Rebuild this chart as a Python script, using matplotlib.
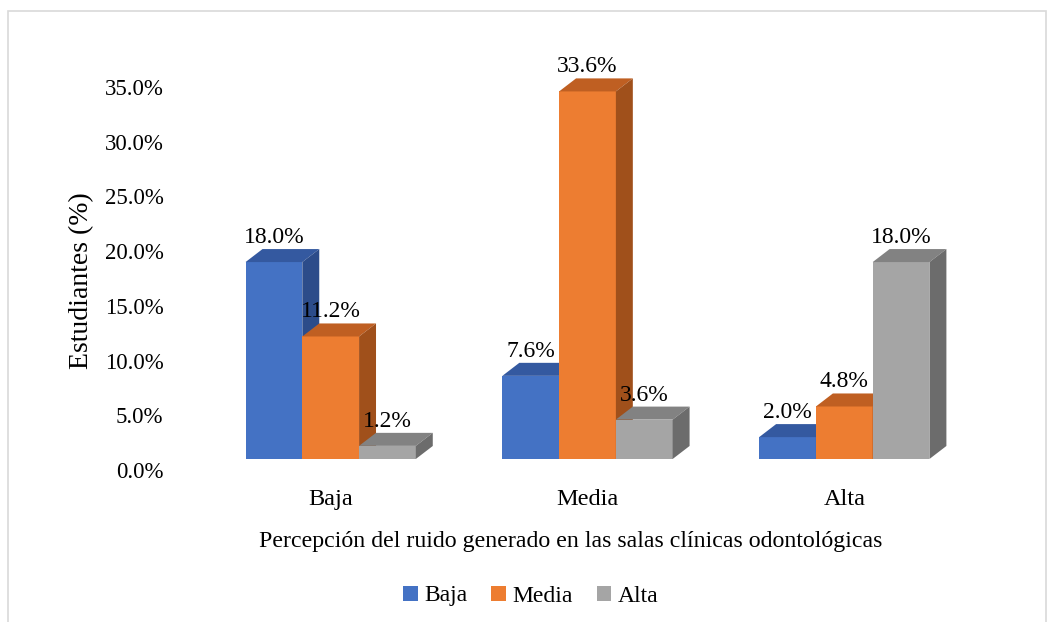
import numpy as np
import matplotlib.pyplot as plt
from matplotlib.patches import Polygon, Rectangle, Patch

categories = ["Baja", "Media", "Alta"]
series = ["Baja", "Media", "Alta"]
values = {
    "Baja": [18.0, 7.6, 2.0],
    "Media": [11.2, 33.6, 4.8],
    "Alta": [1.2, 3.6, 18.0],
}
yticks = [0, 5, 10, 15, 20, 25, 30, 35]

front = {"Baja": "#4472C4", "Media": "#ED7D31", "Alta": "#A5A5A5"}
topc = {"Baja": "#3459A0", "Media": "#BF5F22", "Alta": "#828282"}
sidec = {"Baja": "#2C4C8A", "Media": "#A0501B", "Alta": "#6C6C6C"}

plt.rcParams["font.family"] = ["Liberation Serif", "DejaVu Serif"]

# axes layout in pixels
ylo, yhi = -1.2, 37
ppu = 10.94                      # pixels per percent
ax_bot = 459 + (-ylo) * ppu      # pixel row of axes bottom
ax_h = (yhi - ylo) * ppu

fig = plt.figure(figsize=(10.54, 6.22), dpi=100)
ax = fig.add_axes([201 / 1054, (622 - ax_bot) / 622, 773 / 1054, ax_h / 622])

w = 0.221          # bar width (group units)
dx, dy = 0.066, 1.19  # depth offset
x = np.arange(len(categories))

for i, s in enumerate(series):
    xs = x + (i - 1) * w
    for xi, v in zip(xs, values[s]):
        x0 = xi - w / 2
        x1 = xi + w / 2
        ax.add_patch(Rectangle((x0, 0), w, v, facecolor=front[s], edgecolor="none", zorder=3))
        ax.add_patch(Polygon([(x0, v), (x0 + dx, v + dy), (x1 + dx, v + dy), (x1, v)],
                             closed=True, facecolor=topc[s], edgecolor="none", zorder=3))
        ax.add_patch(Polygon([(x1, 0), (x1 + dx, dy), (x1 + dx, v + dy), (x1, v)],
                             closed=True, facecolor=sidec[s], edgecolor="none", zorder=3))
        ax.text(xi, v + dy + 0.1, f"{v:.1f}%", ha="center", va="bottom", fontsize=17, zorder=4)

ax.set_yticks(np.array(yticks) - 1.0)
ax.set_yticklabels([f"{t:.1f}%" for t in yticks], fontsize=16.5)
ax.set_xticks(x)
ax.set_xticklabels(categories, fontsize=17.5)
ax.set_xlim(-0.505, 2.505)
ax.set_ylim(ylo, yhi)
ax.tick_params(axis="both", length=0)
ax.tick_params(axis="x", pad=12)
ax.tick_params(axis="y", pad=27)
for sp in ax.spines.values():
    sp.set_visible(False)
ax.set_ylabel("Estudiantes (%)", fontsize=20)
ax.yaxis.set_label_coords(-(201 - 82) / 773, (ax_bot - 281) / ax_h)
ax.set_xlabel("Percepción del ruido generado en las salas clínicas odontológicas", fontsize=17.2)
ax.xaxis.set_label_coords((571 - 201) / 773, -(542 - ax_bot) / ax_h)
ax.xaxis.label.set_va("center")
ax.yaxis.label.set_va("center")

handles = [Patch(facecolor=front[s], label=s) for s in series]
fig.legend(handles=handles, loc="center", bbox_to_anchor=(531 / 1054, 1 - 596 / 622), ncol=3,
           frameon=False, fontsize=17, handlelength=0.6, handleheight=0.6,
           handletextpad=0.3, columnspacing=1.0)

fig.patches.append(Rectangle((8 / 1054, -0.05), 1038 / 1054, 1.05 - 11 / 622,
                             transform=fig.transFigure, fill=False,
                             edgecolor="#D9D9D9", linewidth=1.2))

fig.savefig("out.png", dpi=100)
